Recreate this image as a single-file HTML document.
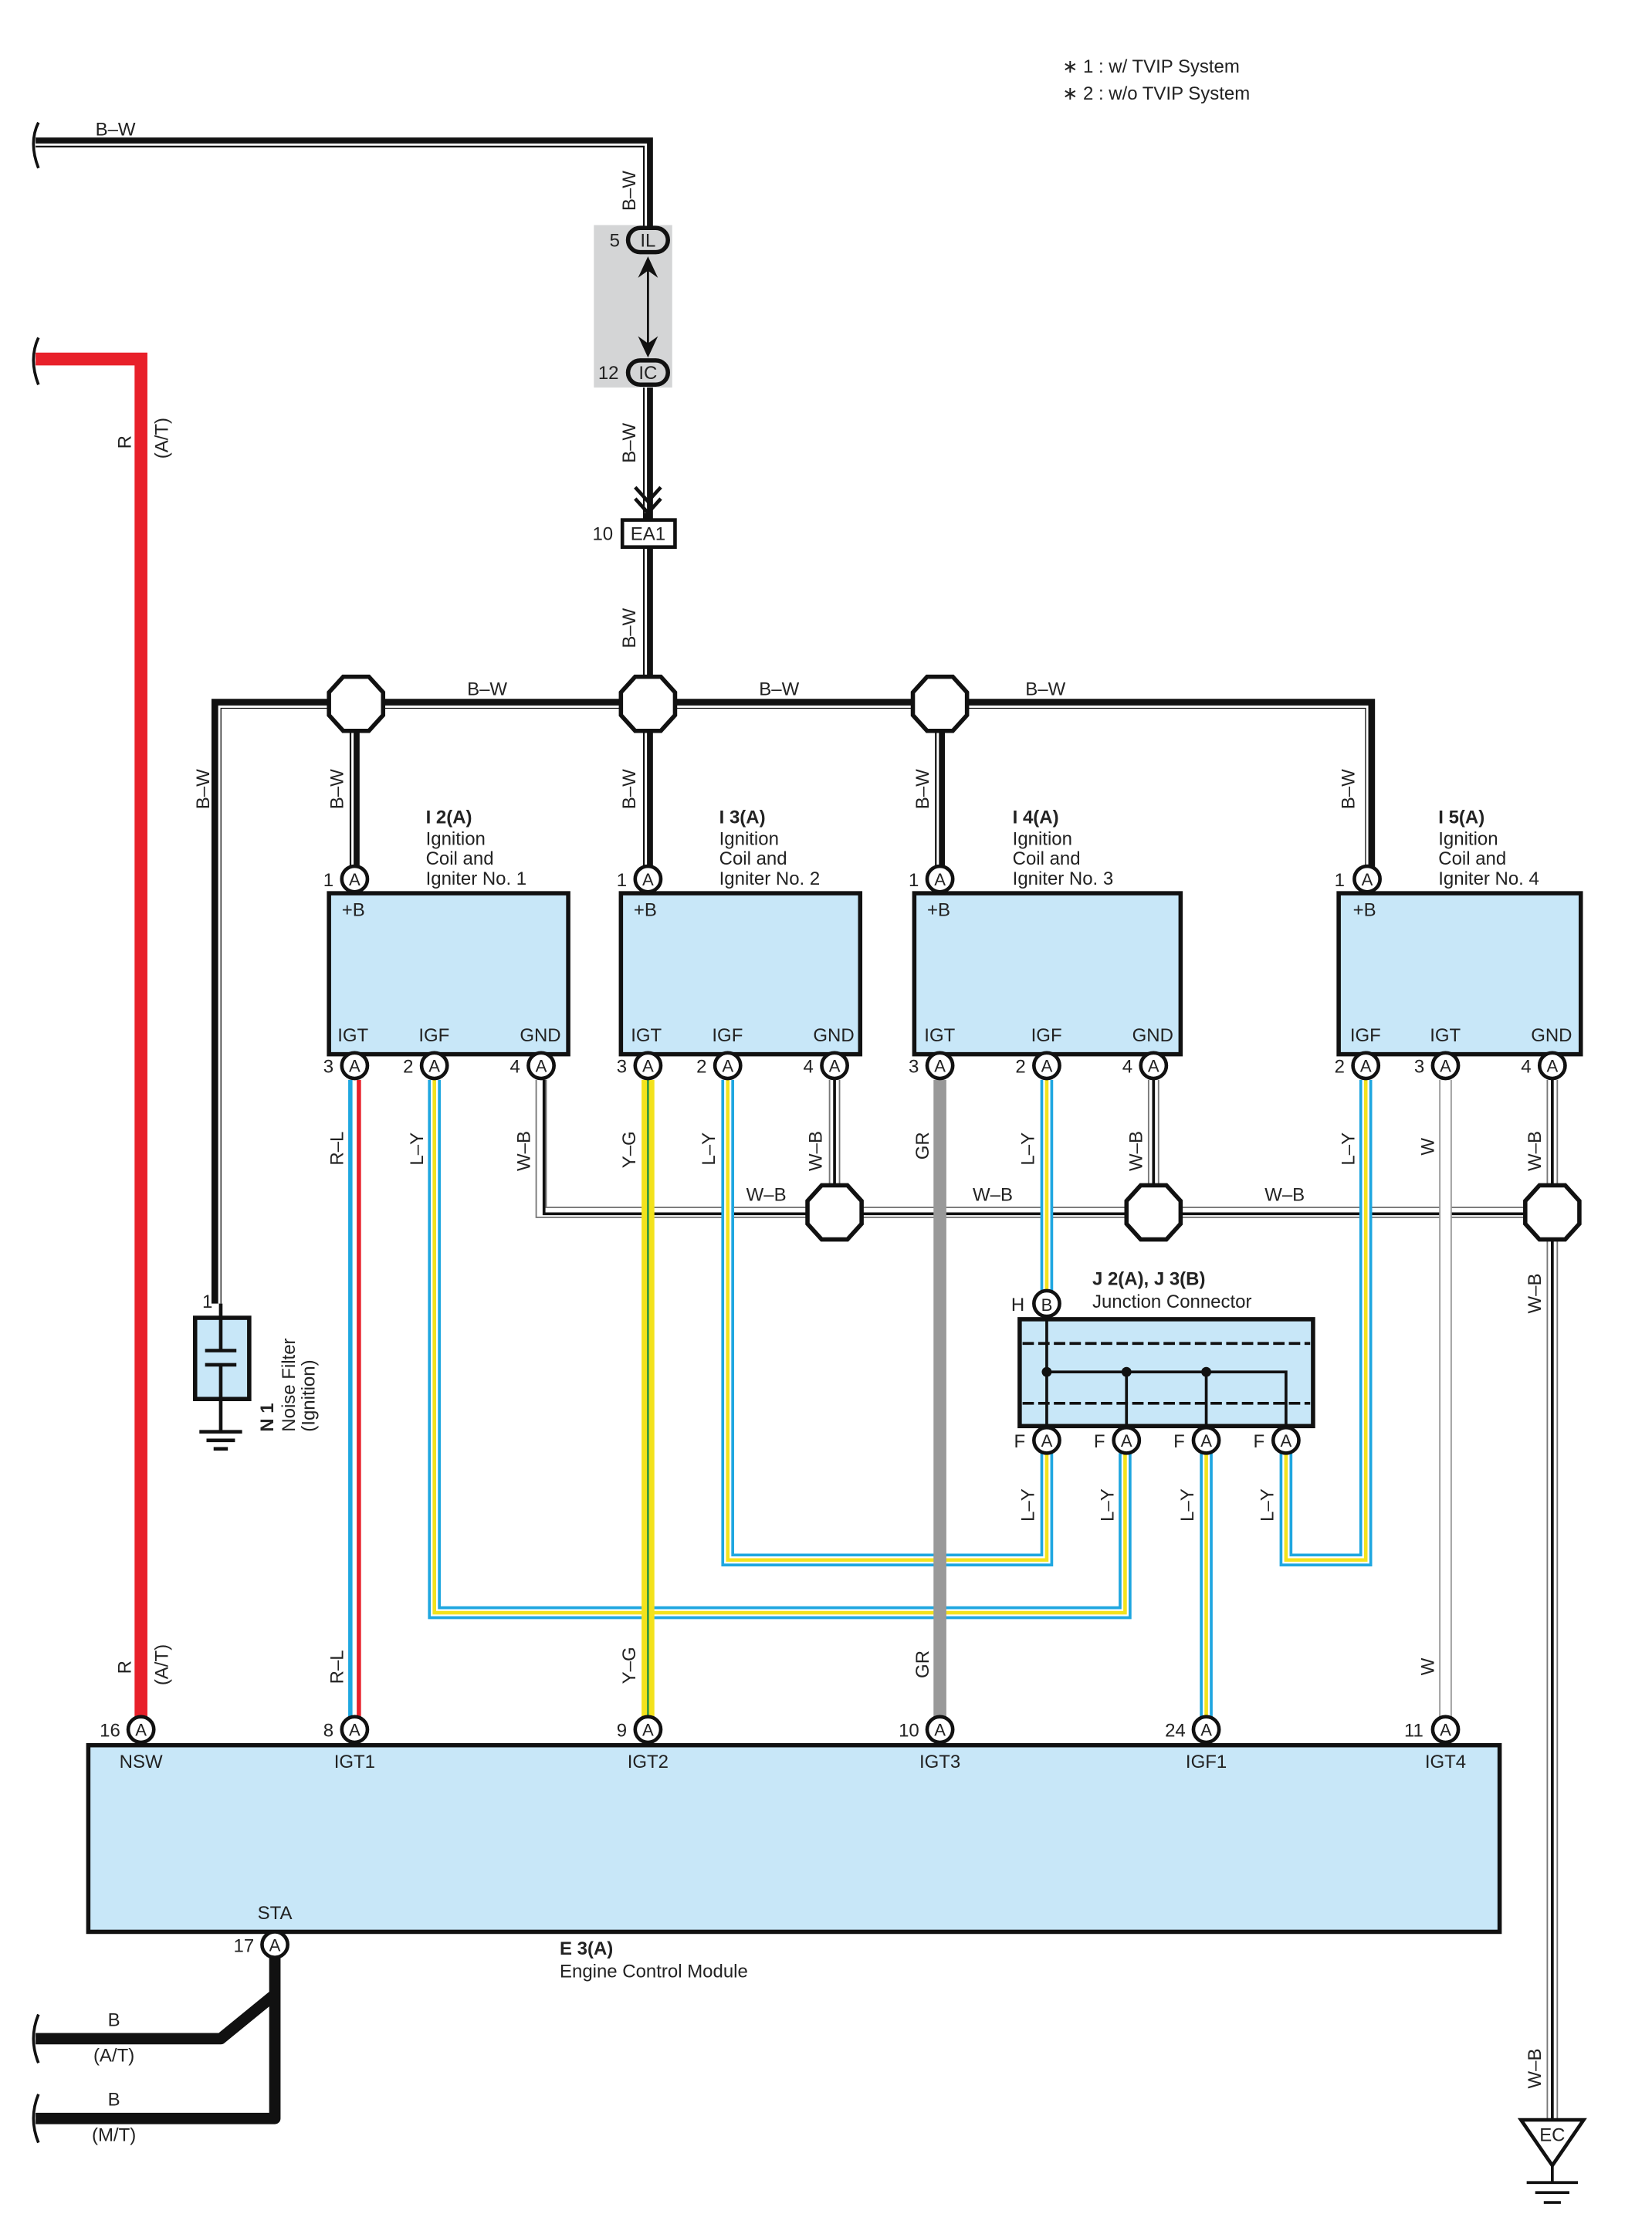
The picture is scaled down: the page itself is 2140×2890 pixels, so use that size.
<!DOCTYPE html>
<html><head><meta charset="utf-8"><style>
html,body{margin:0;padding:0;background:#fff;}
svg{display:block;}
text{font-family:"Liberation Sans",sans-serif;font-size:13px;fill:#222;}
.b{font-weight:bold;}
.c{text-anchor:middle;}
</style></head><body>
<svg width="2140" height="2890" viewBox="0 0 1160 1566" preserveAspectRatio="none" xmlns="http://www.w3.org/2000/svg">
<defs>
<g id="oct"><polygon points="-9,-19 9,-19 19,-8 19,8 9,19 -9,19 -19,8 -19,-8" fill="#fff" stroke="#111" stroke-width="3"/></g>
<g id="ca"><circle r="9" fill="#fff" stroke="#111" stroke-width="2.5"/><text y="4.5" class="c" style="font-size:12px">A</text></g>
</defs>
<!-- legend -->
<text x="746" y="51">∗ 1 : w/ TVIP System</text>
<text x="746" y="70">∗ 2 : w/o TVIP System</text>

<!-- gray TVIP -->
<rect x="417" y="158" width="55" height="114" fill="#d4d5d6"/>

<!-- B-W wires black with white stripe -->
<g fill="none" stroke-linejoin="miter">
<path d="M25,100 H455 V160 M455,272 V365 M455,384 V494 M152,915 V494 H962 V610 M249,494 V608 M455,494 V608 M660,494 V608" stroke="#111" stroke-width="7"/>
<path d="M25,101.5 H453.5 V160 M453.5,272 V360 M453.5,384 V494" stroke="#fff" stroke-width="1.6"/>
<path d="M154,915 V496 H960 V608 M247.5,494 V608 M453.5,494 V608 M658.5,494 V608" stroke="#fff" stroke-width="1.6"/>
</g>
<!-- breaks -->
<path d="M27,86 Q20,100 27,118" fill="none" stroke="#111" stroke-width="2"/>
<path d="M27,237 Q20,252 27,270" fill="none" stroke="#111" stroke-width="2"/>

<!-- IL/IC -->
<rect x="441" y="160" width="28" height="17" rx="8.5" fill="#d4d5d6" stroke="#111" stroke-width="3"/>
<text x="455" y="173" class="c">IL</text><text x="428" y="173">5</text>
<rect x="441" y="253" width="28" height="17" rx="8.5" fill="#d4d5d6" stroke="#111" stroke-width="3"/>
<text x="455" y="266" class="c">IC</text><text x="420" y="266">12</text>
<line x1="455" y1="185" x2="455" y2="245" stroke="#111" stroke-width="1.5"/>
<path d="M448,195 L455,180 L462,195 L455,190 Z" fill="#111"/>
<path d="M448,236 L455,251 L462,236 L455,241 Z" fill="#111"/>
<!-- arrow into EA1 -->
<path d="M446,342 L455,352 L464,342 M446,350 L455,360 L464,350" fill="none" stroke="#111" stroke-width="2.5"/>
<rect x="437" y="365" width="37" height="19" fill="#fff" stroke="#111" stroke-width="2.5"/>
<text x="455" y="379" class="c">EA1</text><text x="416" y="379">10</text>

<!-- B-W labels -->
<text x="67" y="95">B–W</text>
<text x="328" y="488">B–W</text><text x="533" y="488">B–W</text><text x="720" y="488">B–W</text>
<g>
<text transform="translate(446,148) rotate(-90)">B–W</text>
<text transform="translate(446,325) rotate(-90)">B–W</text>
<text transform="translate(446,455) rotate(-90)">B–W</text>
<text transform="translate(147,568) rotate(-90)">B–W</text>
<text transform="translate(241,568) rotate(-90)">B–W</text>
<text transform="translate(446,568) rotate(-90)">B–W</text>
<text transform="translate(652,568) rotate(-90)">B–W</text>
<text transform="translate(951,568) rotate(-90)">B–W</text>
</g>
<use href="#oct" x="250" y="494"/><use href="#oct" x="455" y="494"/><use href="#oct" x="660" y="494"/>

<!-- red wire -->
<path d="M25,252 H99 V1205" fill="none" stroke="#e8202a" stroke-width="9"/>
<text transform="translate(92,315) rotate(-90)">R</text>
<text transform="translate(118,322) rotate(-90)">(A/T)</text>
<text transform="translate(92,1175) rotate(-90)">R</text>
<text transform="translate(118,1183) rotate(-90)">(A/T)</text>

<!-- W-B ground wires -->
<g fill="none">
<path d="M380,758 V851 H1090 M586,758 V851 M810,758 V851 M1090,758 V1488" stroke="#777" stroke-width="8"/>
<path d="M380,758 V851 H1090 M586,758 V851 M810,758 V851 M1090,758 V1488" stroke="#fff" stroke-width="6"/>
<path d="M382,758 V852 H1090 M586,758 V851 M810,758 V851 M1090,758 V1488" stroke="#111" stroke-width="2"/>
</g>
<use href="#oct" x="586" y="851"/><use href="#oct" x="810" y="851"/><use href="#oct" x="1090" y="851"/>

<!-- L-Y wires -->
<g fill="none">
<path d="M305,758 V1132 H790 V1020 M511,758 V1095 H735 V1020 M735,758 V906 M959,758 V1095 H903 V1020 M847,1020 V1205" stroke="#1fa7e0" stroke-width="9"/>
<path d="M305,758 V1132 H790 V1020 M511,758 V1095 H735 V1020 M735,758 V906 M959,758 V1095 H903 V1020 M847,1020 V1205" stroke="#fff" stroke-width="5"/>
<path d="M305,758 V1132 H790 V1020 M511,758 V1095 H735 V1020 M735,758 V906 M959,758 V1095 H903 V1020 M847,1020 V1205" stroke="#f3e21c" stroke-width="2.5"/>
</g>
<!-- R-L -->
<line x1="246" y1="758" x2="246" y2="1205" stroke="#1fa7e0" stroke-width="3"/>
<line x1="252" y1="758" x2="252" y2="1205" stroke="#e8202a" stroke-width="3"/>
<!-- Y-G -->
<line x1="455" y1="758" x2="455" y2="1205" stroke="#f3e21c" stroke-width="9"/>
<line x1="455" y1="758" x2="455" y2="1205" stroke="#3b9a3b" stroke-width="1.5"/>
<!-- GR -->
<line x1="660" y1="758" x2="660" y2="1205" stroke="#999" stroke-width="9"/>
<!-- W -->
<line x1="1015" y1="758" x2="1015" y2="1205" stroke="#999" stroke-width="9"/>
<line x1="1015" y1="758" x2="1015" y2="1205" stroke="#fff" stroke-width="7"/>

<!-- Igniter boxes -->
<g fill="#c8e7f8" stroke="#111" stroke-width="3">
<rect x="231" y="627" width="168" height="113"/>
<rect x="436" y="627" width="168" height="113"/>
<rect x="642" y="627" width="187" height="113"/>
<rect x="940" y="627" width="170" height="113"/>
</g>
<g>
<text x="299" y="578" class="b">I 2(A)</text><text x="299" y="593">Ignition</text><text x="299" y="607">Coil and</text><text x="299" y="621">Igniter No. 1</text>
<text x="505" y="578" class="b">I 3(A)</text><text x="505" y="593">Ignition</text><text x="505" y="607">Coil and</text><text x="505" y="621">Igniter No. 2</text>
<text x="711" y="578" class="b">I 4(A)</text><text x="711" y="593">Ignition</text><text x="711" y="607">Coil and</text><text x="711" y="621">Igniter No. 3</text>
<text x="1010" y="578" class="b">I 5(A)</text><text x="1010" y="593">Ignition</text><text x="1010" y="607">Coil and</text><text x="1010" y="621">Igniter No. 4</text>
<text x="240" y="643">+B</text><text x="445" y="643">+B</text><text x="651" y="643">+B</text><text x="950" y="643">+B</text>
<text x="237" y="731">IGT</text><text x="294" y="731">IGF</text><text x="365" y="731">GND</text>
<text x="443" y="731">IGT</text><text x="500" y="731">IGF</text><text x="571" y="731">GND</text>
<text x="649" y="731">IGT</text><text x="724" y="731">IGF</text><text x="795" y="731">GND</text>
<text x="948" y="731">IGF</text><text x="1004" y="731">IGT</text><text x="1075" y="731">GND</text>
</g>
<!-- top connectors -->
<use href="#ca" x="249" y="617"/><text x="227" y="622">1</text>
<use href="#ca" x="455" y="617"/><text x="433" y="622">1</text>
<use href="#ca" x="660" y="617"/><text x="638" y="622">1</text>
<use href="#ca" x="960" y="617"/><text x="937" y="622">1</text>
<!-- bottom connectors -->
<use href="#ca" x="249" y="748"/><text x="227" y="753">3</text>
<use href="#ca" x="305" y="748"/><text x="283" y="753">2</text>
<use href="#ca" x="380" y="748"/><text x="358" y="753">4</text>
<use href="#ca" x="455" y="748"/><text x="433" y="753">3</text>
<use href="#ca" x="511" y="748"/><text x="489" y="753">2</text>
<use href="#ca" x="586" y="748"/><text x="564" y="753">4</text>
<use href="#ca" x="660" y="748"/><text x="638" y="753">3</text>
<use href="#ca" x="735" y="748"/><text x="713" y="753">2</text>
<use href="#ca" x="810" y="748"/><text x="788" y="753">4</text>
<use href="#ca" x="959" y="748"/><text x="937" y="753">2</text>
<use href="#ca" x="1015" y="748"/><text x="993" y="753">3</text>
<use href="#ca" x="1090" y="748"/><text x="1068" y="753">4</text>

<!-- wire labels -->
<g>
<text transform="translate(241,818) rotate(-90)">R–L</text>
<text transform="translate(297,818) rotate(-90)">L–Y</text>
<text transform="translate(372,822) rotate(-90)">W–B</text>
<text transform="translate(446,820) rotate(-90)">Y–G</text>
<text transform="translate(502,818) rotate(-90)">L–Y</text>
<text transform="translate(577,822) rotate(-90)">W–B</text>
<text transform="translate(652,814) rotate(-90)">GR</text>
<text transform="translate(726,818) rotate(-90)">L–Y</text>
<text transform="translate(802,822) rotate(-90)">W–B</text>
<text transform="translate(951,818) rotate(-90)">L–Y</text>
<text transform="translate(1007,811) rotate(-90)">W</text>
<text transform="translate(1082,822) rotate(-90)">W–B</text>
<text transform="translate(1082,922) rotate(-90)">W–B</text>
<text transform="translate(1082,1466) rotate(-90)">W–B</text>
<text transform="translate(726,1068) rotate(-90)">L–Y</text>
<text transform="translate(782,1068) rotate(-90)">L–Y</text>
<text transform="translate(838,1068) rotate(-90)">L–Y</text>
<text transform="translate(894,1068) rotate(-90)">L–Y</text>
<text transform="translate(241,1182) rotate(-90)">R–L</text>
<text transform="translate(446,1182) rotate(-90)">Y–G</text>
<text transform="translate(652,1178) rotate(-90)">GR</text>
<text transform="translate(1007,1176) rotate(-90)">W</text>
</g>
<text x="524" y="843">W–B</text><text x="683" y="843">W–B</text><text x="888" y="843">W–B</text>

<!-- Junction connector -->
<rect x="716" y="926" width="206" height="75" fill="#c8e7f8" stroke="#111" stroke-width="3"/>
<line x1="718" y1="943" x2="920" y2="943" stroke="#111" stroke-width="2" stroke-dasharray="8,3"/>
<line x1="718" y1="985" x2="920" y2="985" stroke="#111" stroke-width="2" stroke-dasharray="8,3"/>
<path d="M735,915 V1010 M735,963 H903 V1010 M791,963 V1010 M847,963 V1010" fill="none" stroke="#111" stroke-width="2"/>
<circle cx="735" cy="963" r="3.5" fill="#111"/><circle cx="791" cy="963" r="3.5" fill="#111"/><circle cx="847" cy="963" r="3.5" fill="#111"/>
<circle cx="735" cy="915" r="9" fill="#fff" stroke="#111" stroke-width="2.5"/><text x="735" y="920" class="c" style="font-size:12px">B</text>
<text x="710" y="920">H</text>
<text x="767" y="902" class="b">J 2(A), J 3(B)</text><text x="767" y="918">Junction Connector</text>
<use href="#ca" x="735" y="1011"/><text x="712" y="1016">F</text>
<use href="#ca" x="791" y="1011"/><text x="768" y="1016">F</text>
<use href="#ca" x="847" y="1011"/><text x="824" y="1016">F</text>
<use href="#ca" x="903" y="1011"/><text x="880" y="1016">F</text>

<!-- Noise filter -->
<rect x="137" y="925" width="38" height="57" fill="#c8e7f8" stroke="#111" stroke-width="3"/>
<path d="M155,915 V948 M144,948 H166 M144,958 H166 M155,958 V1005 M140,1005 H170 M145,1011 H165 M150,1017 H160" fill="none" stroke="#111" stroke-width="2.5"/>
<text x="142" y="918">1</text>
<text transform="translate(192,1005) rotate(-90)" class="b">N 1</text>
<text transform="translate(207,1005) rotate(-90)">Noise Filter</text>
<text transform="translate(221,1005) rotate(-90)">(Ignition)</text>

<!-- ECM -->
<rect x="62" y="1225" width="991" height="131" fill="#c8e7f8" stroke="#111" stroke-width="3"/>
<use href="#ca" x="99" y="1214"/><text x="70" y="1219">16</text>
<use href="#ca" x="249" y="1214"/><text x="227" y="1219">8</text>
<use href="#ca" x="455" y="1214"/><text x="433" y="1219">9</text>
<use href="#ca" x="660" y="1214"/><text x="631" y="1219">10</text>
<use href="#ca" x="847" y="1214"/><text x="818" y="1219">24</text>
<use href="#ca" x="1015" y="1214"/><text x="986" y="1219">11</text>
<text x="99" y="1241" class="c">NSW</text><text x="249" y="1241" class="c">IGT1</text><text x="455" y="1241" class="c">IGT2</text>
<text x="660" y="1241" class="c">IGT3</text><text x="847" y="1241" class="c">IGF1</text><text x="1015" y="1241" class="c">IGT4</text>
<text x="193" y="1347" class="c">STA</text>
<text x="393" y="1372" class="b">E 3(A)</text><text x="393" y="1388">Engine Control Module</text>

<!-- B wires -->
<path d="M193,1374 V1487 H25 M193,1400 L155,1431 H25" fill="none" stroke="#111" stroke-width="8" stroke-linejoin="round"/>
<use href="#ca" x="193" y="1365"/><text x="164" y="1370">17</text>
<path d="M27,1414 Q20,1431 27,1448" fill="none" stroke="#111" stroke-width="2"/>
<path d="M27,1470 Q20,1487 27,1504" fill="none" stroke="#111" stroke-width="2"/>
<text x="80" y="1422" class="c">B</text><text x="80" y="1447" class="c">(A/T)</text>
<text x="80" y="1478" class="c">B</text><text x="80" y="1503" class="c">(M/T)</text>

<!-- EC ground -->
<polygon points="1068,1488 1112,1488 1090,1520" fill="#fff" stroke="#111" stroke-width="2.5"/>
<text x="1090" y="1503" class="c">EC</text>
<path d="M1090,1520 V1532 M1072,1532 H1108 M1078,1539 H1102 M1084,1546 H1096" fill="none" stroke="#111" stroke-width="2"/>
</svg>
</body></html>
